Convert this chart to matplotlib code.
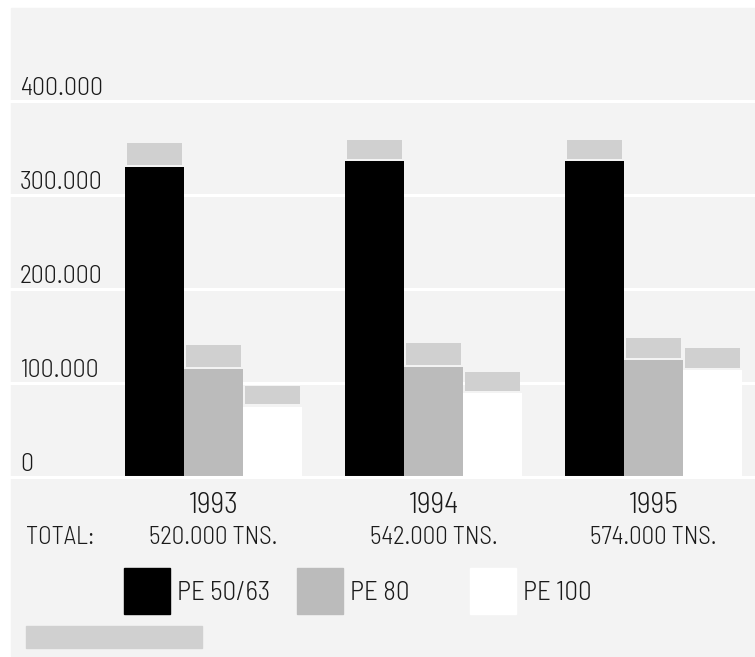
import numpy as np
import matplotlib
matplotlib.use('Agg')
import matplotlib.pyplot as plt
from matplotlib import font_manager as fm
from matplotlib.patches import Rectangle

years = ['1993', '1994', '1995']
totals = [520000, 542000, 574000]
series = ['PE 50/63', 'PE 80', 'PE 100']
# tonnes per grade and year
pe50 = [330000, 336000, 336000]
pe80 = [115000, 117000, 124000]
pe100 = [75000, 89000, 114000]
# upper edge of the light band above each bar
pe50_top = [355000, 358000, 358000]
pe80_top = [140000, 143000, 148000]
pe100_top = [97000, 112000, 137000]
yticks = [0, 100000, 200000, 300000, 400000]

colors = ['#000000', '#bbbbbb', '#ffffff']
cap_color = '#d0d0d0'
panel_color = '#f3f3f3'
text_color = '#1a1a1a'

installed = {f.name for f in fm.fontManager.ttflist}
family = next((n for n in ['Barlow Semi Condensed', 'Barlow Condensed'] if n in installed),
              'DejaVu Sans')
plt.rcParams['font.family'] = [family, 'DejaVu Sans']
plt.rcParams['font.weight'] = 300

W, H = 755, 657
fig = plt.figure(figsize=(W / 100, H / 100), dpi=100)
fig.patch.set_facecolor('white')


def fx(px):
    return px / W


def fy(py):
    return 1 - py / H


def fmt(v):
    return f'{v:,}'.replace(',', '.')


fig.patches.append(Rectangle((fx(11), fy(656)), fx(755) - fx(11), fy(8) - fy(656),
                             transform=fig.transFigure, color=panel_color, zorder=-5))

ax = fig.add_axes([fx(11), fy(477), fx(755) - fx(11), fy(8) - fy(477)])
ax.set_facecolor(panel_color)
ax.set_xlim((11 - 213.5) / 220, (755 - 213.5) / 220)
ax.set_ylim(0, 400000 * 469 / 376)
ax.set_xticks([])
ax.set_yticks([])
for s in ax.spines.values():
    s.set_visible(False)

for v in yticks:
    ax.axhline(v, color='white', lw=2.2, zorder=3 if v == 0 else 1, clip_on=False)
    ax.annotate(fmt(v), xy=(9 / 744, v), xycoords=('axes fraction', 'data'),
                xytext=(0, 4.5), textcoords='offset points', ha='left', va='baseline',
                fontsize=18.5, color=text_color, annotation_clip=False)

x = np.arange(len(years))
w = 59 / 220
gap = 2300
for i, (vals, tops) in enumerate([(pe50, pe50_top), (pe80, pe80_top), (pe100, pe100_top)]):
    vals = np.array(vals)
    tops = np.array(tops)
    pos = x + (i - 1) * w
    ax.bar(pos, vals, width=w, color=colors[i], zorder=2)
    ax.bar(pos, tops - vals - gap, bottom=vals + gap, width=w * 0.94,
           color=cap_color, zorder=2)

for xi, yr, tot in zip(x, years, totals):
    ax.annotate(yr, xy=(xi, 0), xycoords=('data', 'axes fraction'),
                xytext=(0, -36 * 0.72), textcoords='offset points', ha='center',
                va='baseline', fontsize=21.5, color=text_color, annotation_clip=False)
    ax.annotate(fmt(tot) + ' TNS.', xy=(xi, 0), xycoords=('data', 'axes fraction'),
                xytext=(0, -67 * 0.72), textcoords='offset points', ha='center',
                va='baseline', fontsize=18, color=text_color, annotation_clip=False)

fig.text(fx(26), fy(544), 'TOTAL:', ha='left', va='baseline', fontsize=18, color=text_color)

# legend boxes
for k, (name, c) in enumerate(zip(series, colors)):
    x0 = 124 + 173 * k
    fig.patches.append(Rectangle((fx(x0), fy(614)), fx(46), 46 / H,
                                 transform=fig.transFigure, color=c, zorder=1))
    fig.text(fx(x0 + 53), fy(600), name, ha='left', va='baseline', fontsize=19.5,
             color=text_color)

fig.patches.append(Rectangle((fx(26), fy(648)), fx(176), 22 / H,
                             transform=fig.transFigure, color=cap_color, zorder=1))

fig.savefig('out.png', dpi=100)
